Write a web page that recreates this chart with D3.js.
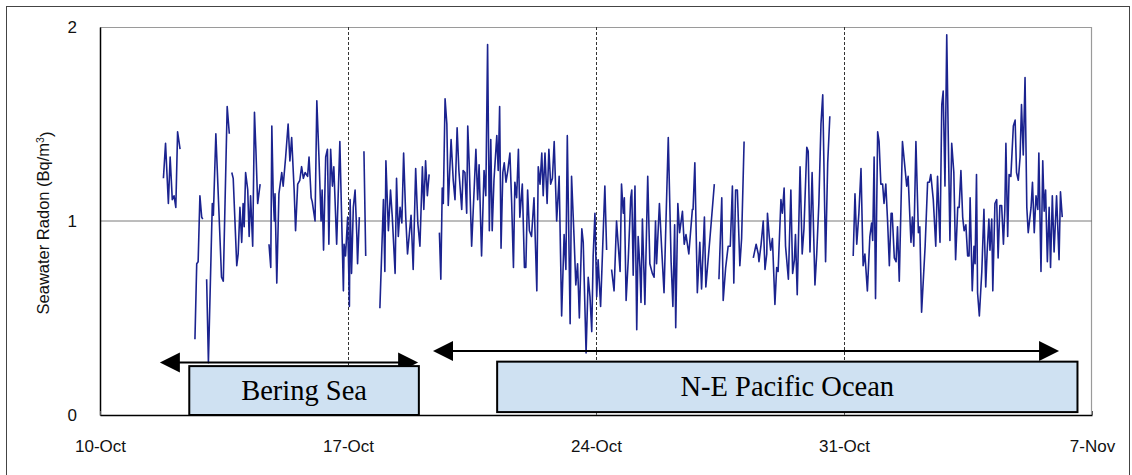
<!DOCTYPE html>
<html>
<head>
<meta charset="utf-8">
<script src="https://cdn.jsdelivr.net/npm/d3@7"></script>
<style>
  body { margin: 0; background: #fff; }
  svg { display: block; }
</style>
</head>
<body>
<svg id="chart" width="1132" height="475"></svg>
<script>
// Cruise start: elapsed days below are counted from this date (UTC).
const startDate = "2007-10-10";

// Elapsed days since the start date; a null radon value marks a gap in the record.
const elapsedDays = [
  1.79, 1.85, 1.93, 1.98, 2.04, 2.09, 2.14, 2.19, 2.26, 2.45,
  2.68, 2.73, 2.77, 2.82, 2.87, 2.90, 2.95,
  3.01, 3.06, 3.17, 3.20, 3.27, 3.43, 3.48, 3.59, 3.65, 3.68,
  3.72, 3.76, 3.86, 3.90, 3.95, 4.00, 4.04, 4.07, 4.11, 4.17, 4.21, 4.25, 4.31, 4.36, 4.40, 4.45, 4.52, 4.65,
  4.77, 4.82, 4.85, 4.89, 4.92, 4.94, 4.99, 5.05, 5.13, 5.17, 5.24, 5.31, 5.36, 5.41, 5.48, 5.52, 5.58, 5.64,
  5.69, 5.74, 5.79, 5.86, 5.90, 5.96, 5.99, 6.07, 6.12, 6.18, 6.24, 6.27, 6.31, 6.37, 6.42, 6.46, 6.51, 6.56,
  6.60, 6.68, 6.77, 6.82, 6.87, 6.89, 6.93, 6.99, 7.04, 7.06, 7.10, 7.15, 7.20, 7.25, 7.27, 7.32, 7.38,
  7.45, 7.50, 7.70,
  7.90, 8.00, 8.04, 8.07, 8.14, 8.20, 8.25, 8.33, 8.37, 8.42, 8.47, 8.52, 8.57, 8.63, 8.68, 8.78, 8.84, 8.91,
  8.97, 9.03, 9.10, 9.14, 9.19, 9.24, 9.29, 9.45,
  9.58, 9.62, 9.66, 9.69, 9.74, 9.79, 9.83, 9.91, 9.97, 10.02, 10.08, 10.13, 10.21, 10.25, 10.30, 10.35, 10.38,
  10.42, 10.49, 10.56, 10.61, 10.66, 10.70, 10.77, 10.84, 10.89, 10.94, 10.99, 11.03, 11.07, 11.12, 11.20,
  11.24, 11.28, 11.32, 11.37, 11.41, 11.46, 11.51, 11.57, 11.62, 11.67, 11.71, 11.76, 11.81, 11.85, 11.92,
  11.98, 12.02, 12.07, 12.12, 12.18, 12.25, 12.33, 12.37, 12.42, 12.47, 12.51, 12.56, 12.62, 12.67, 12.72,
  12.77, 12.82, 12.89, 12.96, 13.03, 13.10, 13.15, 13.19, 13.27, 13.31, 13.38, 13.43, 13.48, 13.53, 13.60,
  13.64, 13.72, 13.78, 13.83, 13.88, 13.92, 13.97, 14.02, 14.06, 14.13, 14.25, 14.30, 14.37,
  14.44, 14.51, 14.58, 14.68, 14.72, 14.77, 14.80, 14.85, 14.91, 14.98, 15.01, 15.05, 15.10, 15.15, 15.19,
  15.24, 15.27, 15.31, 15.38, 15.46, 15.52, 15.59, 15.64, 15.68, 15.71, 15.79, 15.85, 15.92, 16.04, 16.12,
  16.17, 16.22, 16.25, 16.31, 16.36, 16.44, 16.49, 16.54, 16.62, 16.72, 16.74, 16.79, 16.86, 16.93, 16.98,
  17.06, 17.10, 17.22, 17.34, 17.40,
  17.47, 17.55, 17.59, 17.66, 17.73, 17.79, 17.85, 17.89, 17.94, 17.99, 18.06, 18.11, 18.18, 18.30,
  18.44, 18.52, 18.58, 18.60, 18.66, 18.72, 18.77, 18.82, 18.84, 18.89, 18.93, 18.98, 19.05, 19.10, 19.14,
  19.22, 19.26, 19.31, 19.35, 19.43, 19.50, 19.55, 19.60, 19.63, 19.68, 19.76, 19.82, 19.87, 19.95, 19.99,
  20.04, 20.10, 20.18, 20.23, 20.29, 20.35, 20.40, 20.48, 20.54, 20.60, 21.00,
  21.26, 21.31, 21.36, 21.42, 21.48, 21.54, 21.59, 21.66, 21.73, 21.78, 21.81, 21.85, 21.89, 21.95, 21.99,
  22.04, 22.09, 22.13, 22.18, 22.23, 22.28, 22.33, 22.36, 22.42, 22.47, 22.51, 22.56, 22.65, 22.77, 22.81,
  22.89, 22.93, 22.97, 23.03, 23.10, 23.14, 23.19, 23.29, 23.36, 23.41, 23.45, 23.52, 23.59, 23.64, 23.71,
  23.76, 23.80, 23.85, 23.90, 23.94, 23.99, 24.04, 24.10, 24.15, 24.21, 24.25, 24.30, 24.35, 24.39, 24.44,
  24.49, 24.53, 24.56, 24.62, 24.67, 24.70, 24.74, 24.77, 24.82, 24.89, 24.95, 25.00, 25.04, 25.09, 25.12,
  25.17, 25.20, 25.26, 25.31, 25.35, 25.40, 25.45, 25.50, 25.54, 25.57, 25.62, 25.66, 25.71, 25.78, 25.83,
  25.87, 25.92, 25.97, 26.01, 26.06, 26.11, 26.16, 26.20, 26.28, 26.32, 26.37, 26.42, 26.47, 26.50, 26.56,
  26.61, 26.65, 26.69, 26.74, 26.79, 26.83, 26.88, 26.93, 27.00, 27.07, 27.11, 27.16
];

// Seawater radon, Bq/m3 (same order as elapsedDays).
const radon = [
  1.22, 1.40, 1.09, 1.33, 1.11, 1.13, 1.07, 1.46, 1.37, null,
  0.39, 0.78, 0.79, 1.13, 1.02, 1.01, null,
  0.70, 0.27, 1.09, 1.03, 1.45, 0.71, 0.69, 1.59, 1.45, null,
  1.25, 1.22, 0.77, 0.83, 1.07, 0.89, 1.09, 0.97, 1.25, 1.16, 0.92, 1.13, 0.87, 1.56, 1.37, 1.09, 1.19, null,
  0.88, 0.76, 1.49, 1.13, 1.00, 1.14, 0.68, 1.14, 1.25, 1.18, 1.33, 1.50, 1.31, 1.43, 1.16, 0.95, 1.19, 1.21,
  1.28, 1.22, 1.25, 1.23, 1.33, 1.12, 1.10, 1.00, 1.62, 1.33, 1.00, 1.16, 0.85, 1.33, 1.37, 0.88, 1.37, 1.18,
  1.28, 0.88, 1.41, 1.02, 0.64, 0.88, 0.82, 1.02, 0.56, 1.11, 0.73, 1.07, 1.16, 0.92, 0.78, 1.02, null,
  1.36, 0.82, null,
  0.55, 1.11, 0.74, 1.31, 0.95, 1.16, 1.02, 0.73, 1.22, 0.92, 1.07, 0.99, 1.35, 1.02, 0.83, 1.03, 0.75, 1.27,
  0.99, 0.87, 1.28, 1.06, 1.31, 1.13, 1.24, null,
  0.94, 0.70, 1.17, 1.09, 1.63, 1.50, 1.08, 1.42, 1.21, 1.11, 1.48, 1.26, 1.06, 1.26, 1.25, 1.04, 1.49,
  1.30, 0.87, 1.16, 1.37, 1.11, 1.29, 0.82, 1.26, 1.13, 1.91, 0.95, 1.42, 0.95, 1.21, 1.44,
  1.26, 1.59, 0.86, 1.25, 1.30, 1.20, 1.26, 1.35, 1.09, 0.76, 1.20, 1.12, 1.37, 1.02, 1.19,
  0.76, 0.76, 1.16, 0.95, 0.92, 1.12, 0.64, 1.28, 1.19, 1.35, 1.13, 1.35, 1.09, 1.37, 1.19,
  1.22, 1.41, 1.00, 1.23, 0.51, 0.93, 0.75, 1.44, 0.47, 1.23, 0.92, 0.67, 0.78, 0.50, 0.96,
  0.89, 0.32, 0.71, 0.61, 0.43, 0.82, 1.04, 0.61, 0.80, 0.56, 1.18, 0.85, null,
  0.75, 0.64, 1.00, 0.74, 1.19, 1.04, 1.12, 0.59, 0.80, 1.12, 1.16, 0.72, 1.18, 0.44, 0.92,
  0.76, 0.58, 1.01, 0.57, 1.23, 0.78, 0.73, 0.71, 1.00, 0.78, 1.09, 0.87, 0.63, 1.43, 0.79,
  0.56, 0.98, 0.45, 1.09, 0.94, 1.05, 0.88, 0.93, 0.83, 1.06, 1.06, 1.30, 0.63, 0.89, 0.65,
  1.02, 0.66, 0.92, 1.19, null,
  0.70, 1.12, 0.59, 0.76, 0.87, 0.87, 1.18, 0.68, 1.16, 1.16, 0.77, 0.91, 1.41, null,
  0.81, 0.88, 0.83, 0.79, 0.88, 1.00, 0.75, 0.83, 1.04, 0.92, 0.85, 0.91, 0.57, 0.76, 0.74,
  1.11, 1.04, 1.17, 0.87, 0.70, 1.16, 0.73, 0.80, 0.93, 0.62, 1.28, 0.83, 0.96, 1.38, 1.36,
  0.84, 1.25, 0.67, 0.83, 1.09, 1.50, 1.65, 0.79, 1.30, 1.54, null,
  0.82, 1.14, 0.88, 1.04, 1.27, 0.77, 0.83, 0.64, 0.92, 0.99, 0.90, 1.33, 0.60, 1.46, 1.41,
  1.19, 1.19, 1.09, 1.19, 1.00, 0.77, 1.04, 1.04, 0.81, 0.79, 0.97, 0.69, 1.41, 1.18, 1.23,
  0.89, 1.02, 0.87, 1.41, 0.94, 0.97, 0.53, 0.87, 1.20, 1.20, 1.24, 1.11, 0.87, 1.23, 0.89,
  1.60, 1.67, 1.18, 1.96, 1.47, 0.90, 1.40, 1.25, 0.80, 1.07, 1.07, 1.26, 1.02, 0.95, 0.98,
  0.82, 0.82, 1.12, 0.64, 0.87, 0.78, 1.24, 0.63, 0.51, 0.74, 1.06, 0.66, 0.84, 1.01, 0.85,
  1.01, 0.64, 1.09, 1.11, 0.81, 1.08, 1.08, 0.88, 1.06, 1.40, 0.92, 1.24, 1.23, 1.49, 1.52,
  1.25, 1.21, 1.33, 1.60, 1.34, 1.74, 1.07, 0.94, 1.07, 1.20, 0.94, 1.13, 1.06, 1.35, 0.74,
  1.31, 1.05, 1.16, 0.79, 1.07, 0.76, 1.13, 0.84, 1.13, 0.80, 1.15, 1.02
];

// Axis ticks
const xTickDays = [0, 7, 14, 21, 28];
const yTicks = [0, 1, 2];
const yTitle = "Seawater Radon (Bq/m";
const yTitleSup = "3";
const yTitleEnd = ")";

// Cruise legs: name, arrow span and label box span (elapsed days)
const legNames = ["Bering Sea", "N-E Pacific Ocean"];
const legArrowFrom = [1.69, 9.40];
const legArrowTo = [8.98, 27.07];
const legBoxFrom = [2.52, 11.21];
const legBoxTo = [9.00, 27.59];

// ---------- layout ----------
const plot = { left: 100, right: 1092, top: 27, bottom: 415 };
const DAY = 86400000;
const t0 = new Date(startDate + "T00:00:00Z");
const toDate = d => new Date(t0.getTime() + d * DAY);

const svg = d3.select("#chart");
const sans = "'Liberation Sans', Arial, sans-serif";
const serif = "'Liberation Serif', 'Times New Roman', serif";

const x = d3.scaleUtc()
  .domain([toDate(0), toDate(28)])
  .range([plot.left, plot.right]);
const y = d3.scaleLinear()
  .domain([0, 2])
  .range([plot.bottom, plot.top]);

// outer frame (runs past the bottom edge)
svg.append("rect")
  .attr("x", 6.5).attr("y", 6.5)
  .attr("width", 1123).attr("height", 500)
  .attr("fill", "none").attr("stroke", "#444").attr("stroke-width", 1);

// plot area border (top and right in grey)
svg.append("path")
  .attr("d", `M${plot.left},${plot.top + 0.5}H${plot.right - 0.5}V${plot.bottom}`)
  .attr("fill", "none").attr("stroke", "#9a9a9a").attr("stroke-width", 1.2);

// horizontal gridline at 1
svg.append("line")
  .attr("x1", plot.left).attr("x2", plot.right)
  .attr("y1", y(1)).attr("y2", y(1))
  .attr("stroke", "#7a7a7a").attr("stroke-width", 1);

// weekly dashed verticals
svg.append("g").selectAll("line")
  .data(xTickDays.slice(1, -1))
  .join("line")
  .attr("x1", d => Math.round(x(toDate(d))) + 0.5)
  .attr("x2", d => Math.round(x(toDate(d))) + 0.5)
  .attr("y1", plot.top).attr("y2", plot.bottom)
  .attr("stroke", "#333").attr("stroke-width", 1)
  .attr("stroke-dasharray", "3,2");

// radon series
const series = elapsedDays.map((d, i) => ({ t: toDate(d), v: radon[i] }));
const line = d3.line()
  .defined(d => d.v !== null)
  .x(d => x(d.t))
  .y(d => y(d.v));
svg.append("path")
  .datum(series)
  .attr("d", line)
  .attr("fill", "none")
  .attr("stroke", "#1b238f")
  .attr("stroke-width", 1.6)
  .attr("stroke-linejoin", "round");

// y axis
const yAxis = svg.append("g")
  .attr("transform", `translate(${plot.left},0)`)
  .call(d3.axisLeft(y).tickValues(yTicks).tickFormat(d3.format("d")).tickSize(0).tickPadding(23));
yAxis.select(".domain").attr("stroke", "#000").attr("stroke-width", 1.5);
yAxis.selectAll("text").attr("font-family", sans).attr("font-size", 17).attr("fill", "#111");

// x axis
const xAxis = svg.append("g")
  .attr("transform", `translate(0,${plot.bottom})`)
  .call(d3.axisBottom(x)
    .tickValues(xTickDays.map(toDate))
    .tickFormat(d3.utcFormat("%-d-%b"))
    .tickSizeInner(-4).tickSizeOuter(0).tickPadding(25));
xAxis.select(".domain").attr("stroke", "#000").attr("stroke-width", 1.5);
xAxis.selectAll(".tick line").attr("stroke", "#555");
xAxis.selectAll("text").attr("font-family", sans).attr("font-size", 17).attr("fill", "#111");

// y title
const yt = svg.append("text")
  .attr("transform", `translate(49,${(plot.top + plot.bottom) / 2 + 2}) rotate(-90)`)
  .attr("text-anchor", "middle")
  .attr("font-family", sans).attr("font-size", 16.5).attr("fill", "#111");
yt.append("tspan").text(yTitle);
yt.append("tspan").attr("dy", "-0.45em").attr("font-size", 10.5).text(yTitleSup);
yt.append("tspan").attr("dy", "0.45em").text(yTitleEnd);

// cruise leg annotations
const arrowY = [0.27, 0.33];
const boxTop = [0.252, 0.275];
const boxBottom = [0.0, 0.015];
const head = 20, half = 10;
const legs = svg.append("g");
legNames.forEach((name, i) => {
  const ax1 = x(toDate(legArrowFrom[i])), ax2 = x(toDate(legArrowTo[i]));
  const ay = y(arrowY[i]);
  legs.append("line")
    .attr("x1", ax1 + head - 2).attr("x2", ax2 - head + 2)
    .attr("y1", ay).attr("y2", ay)
    .attr("stroke", "#000").attr("stroke-width", 2);
  legs.append("path")
    .attr("d", `M${ax1},${ay}L${ax1 + head},${ay - half}L${ax1 + head},${ay + half}Z`)
    .attr("fill", "#000");
  legs.append("path")
    .attr("d", `M${ax2},${ay}L${ax2 - head},${ay - half}L${ax2 - head},${ay + half}Z`)
    .attr("fill", "#000");

  const bx1 = x(toDate(legBoxFrom[i])), bx2 = x(toDate(legBoxTo[i]));
  const by1 = y(boxTop[i]), by2 = y(boxBottom[i]);
  legs.append("rect")
    .attr("x", bx1).attr("y", by1)
    .attr("width", bx2 - bx1).attr("height", by2 - by1)
    .attr("fill", "#cfe1f2").attr("stroke", "#000").attr("stroke-width", 2);
  legs.append("text")
    .attr("x", (bx1 + bx2) / 2).attr("y", (by1 + by2) / 2 + 9)
    .attr("text-anchor", "middle")
    .attr("font-family", serif).attr("font-size", 28.5).attr("fill", "#000")
    .text(name);
});
</script>
</body>
</html>
